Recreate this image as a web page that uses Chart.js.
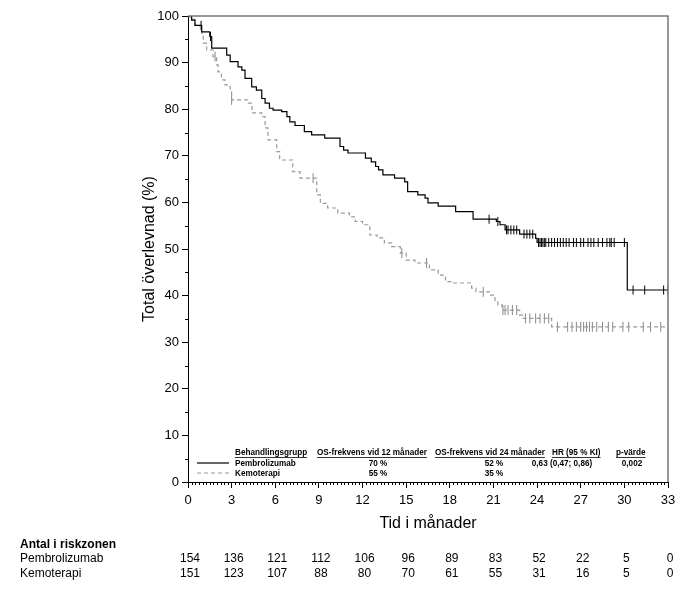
<!DOCTYPE html>
<html>
<head>
<meta charset="utf-8">
<script src="https://cdn.jsdelivr.net/npm/chart.js@4.4.0/dist/chart.umd.min.js"></script>
<style>
  html, body { margin: 0; padding: 0; background: #fff; }
</style>
</head>
<body>
<canvas id="km" width="695" height="598"></canvas>
<script>
// Kaplan-Meier steps: time in months, survival (%) after the step
var pembroTime = [0, 0.25, 0.48, 0.94, 1.5, 1.63, 2.66, 2.9, 3.44, 3.7, 3.92, 4.38, 4.7, 5.07, 5.3, 5.6, 5.85, 6.44, 6.8, 7.0, 7.36, 8.0, 8.5, 9.4, 10.45, 10.7, 11.0, 12.2, 12.6, 12.9, 13.1, 13.4, 14.2, 14.9, 15.1, 15.8, 16.3, 16.5, 17.2, 18.4, 19.6, 21.2, 21.45, 21.8, 22.8, 23.9, 24.0, 30.2, 33];
var pembroSurv = [100, 99.1, 98, 96.6, 95.6, 93.1, 91.6, 90.2, 89.1, 88.4, 86.6, 84.8, 84.1, 82.3, 81.3, 80.2, 79.8, 79.5, 78.4, 77.3, 76.5, 75.2, 74.5, 73.8, 72, 71.2, 70.6, 69.5, 68.7, 67.7, 67, 65.9, 65.2, 64.4, 62.3, 61.6, 60.9, 59.9, 59.2, 58, 56.4, 55.9, 55.2, 54.1, 53.2, 52.3, 51.4, 41.2, 41.2];
var pembroCensor = [0.9, 1.55, 20.7, 21.3, 21.9, 22.0, 22.2, 22.4, 22.6, 23.1, 23.3, 23.5, 23.7, 24.1, 24.2, 24.3, 24.4, 24.5, 24.6, 24.8, 25.0, 25.2, 25.4, 25.6, 25.8, 26.0, 26.2, 26.5, 26.7, 27.0, 27.2, 27.5, 27.7, 27.9, 28.2, 28.5, 28.8, 29.0, 29.1, 29.3, 30.0, 30.6, 31.4, 32.7, 33.0];

var kemoTime = [0, 0.15, 0.48, 0.83, 0.94, 1.05, 1.28, 1.72, 1.97, 2.07, 2.3, 2.54, 2.9, 3.0, 4.1, 4.4, 5.07, 5.3, 5.5, 6.1, 6.3, 7.2, 7.7, 8.85, 9.1, 9.6, 10.3, 11.1, 11.5, 12.0, 12.5, 13.0, 13.5, 14.0, 14.6, 15.0, 15.6, 16.6, 17.2, 17.7, 18.2, 19.5, 19.8, 20.8, 21.1, 21.3, 21.6, 22.8, 23.0, 25.0, 33];
var kemoSurv = [100, 99.3, 98, 97.7, 96.3, 94.2, 92.7, 91.3, 89.5, 88, 86.3, 85.2, 84.1, 82, 81.3, 79.2, 78.4, 76, 73.4, 70.9, 69.1, 66.6, 65.2, 61.6, 59.8, 58.8, 57.7, 56.9, 55.9, 55.2, 53, 52.4, 51.3, 50.5, 49.1, 47.6, 47, 45.5, 44.4, 43, 42.7, 41.6, 40.8, 40.1, 39, 38, 36.9, 35.8, 35.1, 33.3, 33.3];
var kemoCensor = [1.86, 3.0, 8.6, 14.7, 16.4, 20.3, 21.65, 21.8, 22.0, 22.3, 22.6, 23.2, 23.5, 23.9, 24.2, 24.5, 24.8, 25.4, 26.1, 26.4, 26.7, 27.0, 27.2, 27.4, 27.6, 27.8, 28.1, 28.5, 28.9, 29.2, 29.9, 30.3, 31.3, 31.8, 32.5];

var monthTicks = [0, 3, 6, 9, 12, 15, 18, 21, 24, 27, 30, 33];
var riskPembro = [154, 136, 121, 112, 106, 96, 89, 83, 52, 22, 5, 0];
var riskKemo = [151, 123, 107, 88, 80, 70, 61, 55, 31, 16, 5, 0];

var groupNames = ['Pembrolizumab', 'Kemoterapi'];
var tableHeaders = ['Behandlingsgrupp', 'OS-frekvens vid 12 månader', 'OS-frekvens vid 24 månader', 'HR (95 % KI)', 'p-värde'];
var os12 = ['70 %', '55 %'];
var os24 = ['52 %', '35 %'];
var hrText = ['0,63 (0,47; 0,86)', ''];
var pText = ['0,002', ''];

var FONT = '"Liberation Sans", Arial, sans-serif';

function steps(times, surv) {
    return times.map(function (t, i) { return {x: t, y: surv[i]}; });
}
function survAt(times, surv, t) {
    var v = surv[0];
    for (var i = 0; i < times.length; i++) {
        if (times[i] <= t) v = surv[i];
    }
    return v;
}
function censorPts(cens, times, surv) {
    return cens.map(function (t) { return {x: t, y: survAt(times, surv, t)}; });
}

// condensed text: squeeze horizontally, returns drawn width
function condText(ctx, txt, x, y, align, sx) {
    var w = ctx.measureText(txt).width * sx;
    var left = align === 'center' ? x - w / 2 : x;
    ctx.save();
    ctx.textAlign = 'left';
    ctx.translate(left, y);
    ctx.scale(sx, 1);
    ctx.fillText(txt, 0, 0);
    ctx.restore();
    return w;
}

var extras = {
    id: 'extras',
    afterDraw: function (chart) {
        var ctx = chart.ctx;
        var a = chart.chartArea;
        var xs = chart.scales.x, ys = chart.scales.y;
        ctx.save();

        // frame top / right
        ctx.strokeStyle = '#777';
        ctx.lineWidth = 1.5;
        ctx.beginPath();
        ctx.moveTo(a.left, a.top);
        ctx.lineTo(a.right, a.top);
        ctx.lineTo(a.right, a.bottom);
        ctx.stroke();

        // minor ticks
        ctx.strokeStyle = '#000';
        ctx.lineWidth = 1;
        ctx.beginPath();
        for (var m = 0.25; m < 33; m += 0.25) {
            if (Math.abs(m % 3) < 1e-6) continue;
            var px = Math.round(xs.getPixelForValue(m)) + 0.5;
            ctx.moveTo(px, a.bottom);
            ctx.lineTo(px, a.bottom + 3);
        }
        for (var v = 5; v < 100; v += 10) {
            var py = Math.round(ys.getPixelForValue(v)) + 0.5;
            ctx.moveTo(a.left, py);
            ctx.lineTo(a.left - 3, py);
        }
        ctx.stroke();

        // in-plot summary table
        ctx.fillStyle = '#000';
        ctx.strokeStyle = '#000';
        ctx.font = 'bold 9.5px ' + FONT;
        ctx.textBaseline = 'middle';
        var sx = 0.86;
        var hy = 452, r1 = 463, r2 = 473;
        var cols = [235, 317, 435, 552, 616];
        ctx.lineWidth = 0.8;
        tableHeaders.forEach(function (h, i) {
            var w = condText(ctx, h, cols[i], hy, 'left', sx);
            ctx.beginPath();
            ctx.moveTo(cols[i], hy + 5.5);
            ctx.lineTo(cols[i] + w, hy + 5.5);
            ctx.stroke();
        });
        [r1, r2].forEach(function (ry, i) {
            condText(ctx, groupNames[i], cols[0], ry, 'left', sx);
            condText(ctx, os12[i], 378, ry, 'center', sx);
            condText(ctx, os24[i], 494, ry, 'center', sx);
            condText(ctx, hrText[i], 562, ry, 'center', sx);
            condText(ctx, pText[i], 632, ry, 'center', sx);
        });
        ctx.lineWidth = 1.2;
        ctx.beginPath();
        ctx.moveTo(197, r1); ctx.lineTo(229, r1);
        ctx.stroke();
        ctx.strokeStyle = '#999';
        ctx.setLineDash([4, 3]);
        ctx.beginPath();
        ctx.moveTo(197, r2); ctx.lineTo(229, r2);
        ctx.stroke();
        ctx.setLineDash([]);

        // number at risk
        ctx.fillStyle = '#000';
        ctx.textAlign = 'left';
        ctx.font = 'bold 12px ' + FONT;
        ctx.fillText('Antal i riskzonen', 20, 545);
        ctx.font = '12px ' + FONT;
        ctx.fillText(groupNames[0], 20, 559);
        ctx.fillText(groupNames[1], 20, 574);
        ctx.textAlign = 'center';
        monthTicks.forEach(function (t, i) {
            var px = xs.getPixelForValue(t) + 2;
            ctx.fillText(String(riskPembro[i]), px, 559);
            ctx.fillText(String(riskKemo[i]), px, 574);
        });
        ctx.restore();
    }
};

new Chart(document.getElementById('km').getContext('2d'), {
    type: 'line',
    data: {
        datasets: [
            {
                data: steps(pembroTime, pembroSurv),
                stepped: 'before',
                borderColor: '#000',
                borderWidth: 1.2,
                pointRadius: 0,
                fill: false
            },
            {
                data: steps(kemoTime, kemoSurv),
                stepped: 'before',
                borderColor: '#999',
                borderDash: [4, 3],
                borderWidth: 1.2,
                pointRadius: 0,
                fill: false
            },
            {
                data: censorPts(pembroCensor, pembroTime, pembroSurv),
                showLine: false,
                pointStyle: 'line',
                rotation: 90,
                pointRadius: 4.5,
                borderColor: '#000',
                pointBorderWidth: 1
            },
            {
                data: censorPts(kemoCensor, kemoTime, kemoSurv),
                showLine: false,
                pointStyle: 'line',
                rotation: 90,
                pointRadius: 5,
                borderColor: '#888',
                pointBorderWidth: 1
            }
        ]
    },
    options: {
        responsive: false,
        animation: false,
        events: [],
        layout: {padding: {left: 0, top: 16, right: 27, bottom: 0}},
        plugins: {legend: {display: false}, tooltip: {enabled: false}},
        scales: {
            x: {
                type: 'linear',
                min: 0,
                max: 33,
                afterFit: function (s) { s.height = 116; },
                ticks: {stepSize: 3, color: '#000', padding: 5, font: {family: FONT, size: 13}, maxRotation: 0},
                grid: {drawOnChartArea: false, tickLength: 6, color: '#000'},
                border: {color: '#000', width: 1},
                title: {display: true, text: 'Tid i månader', color: '#000',
                        font: {family: FONT, size: 16}, padding: {top: 0, bottom: 65}}
            },
            y: {
                min: 0,
                max: 100,
                afterFit: function (s) { s.width = 188; },
                ticks: {stepSize: 10, color: '#000', padding: 3, font: {family: FONT, size: 13}},
                grid: {drawOnChartArea: false, tickLength: 6, color: '#000'},
                border: {color: '#000', width: 1},
                title: {display: true, text: 'Total överlevnad (%)', color: '#000',
                        font: {family: FONT, size: 16}, padding: {top: 140, bottom: 0}}
            }
        }
    },
    plugins: [extras]
});
</script>
</body>
</html>
